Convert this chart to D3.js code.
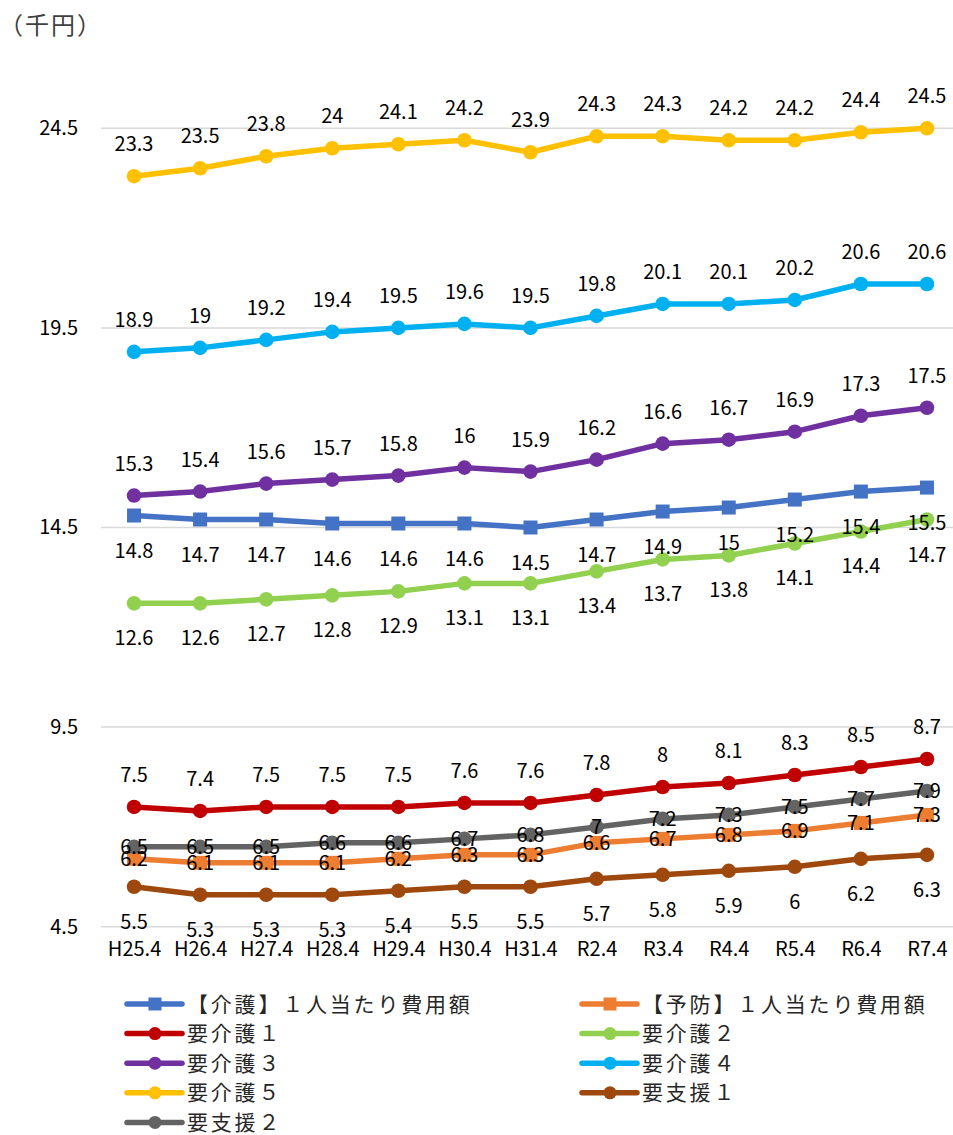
<!DOCTYPE html>
<html>
<head>
<meta charset="utf-8">
<script src="https://cdn.jsdelivr.net/npm/d3@7"></script>
<style>
  html, body { margin: 0; padding: 0; background: #fff; }
  svg { display: block; font-family: "Noto Sans CJK JP", "Noto Sans", sans-serif; }
</style>
</head>
<body>
<svg id="chart" width="953" height="1135"></svg>
<script>
// Categories (fiscal year, April)
const categories = ["H25.4","H26.4","H27.4","H28.4","H29.4","H30.4","H31.4","R2.4","R3.4","R4.4","R5.4","R6.4","R7.4"];
const yTicks = [4.5, 9.5, 14.5, 19.5, 24.5];

// Per-person cost (thousand yen) by care level
const kaigoTotal = [14.8,14.7,14.7,14.6,14.6,14.6,14.5,14.7,14.9,15,15.2,15.4,15.5];
const yoboTotal  = [6.2,6.1,6.1,6.1,6.2,6.3,6.3,6.6,6.7,6.8,6.9,7.1,7.3];
const kaigo1 = [7.5,7.4,7.5,7.5,7.5,7.6,7.6,7.8,8,8.1,8.3,8.5,8.7];
const kaigo2 = [12.6,12.6,12.7,12.8,12.9,13.1,13.1,13.4,13.7,13.8,14.1,14.4,14.7];
const kaigo3 = [15.3,15.4,15.6,15.7,15.8,16,15.9,16.2,16.6,16.7,16.9,17.3,17.5];
const kaigo4 = [18.9,19,19.2,19.4,19.5,19.6,19.5,19.8,20.1,20.1,20.2,20.6,20.6];
const kaigo5 = [23.3,23.5,23.8,24,24.1,24.2,23.9,24.3,24.3,24.2,24.2,24.4,24.5];
const shien1 = [5.5,5.3,5.3,5.3,5.4,5.5,5.5,5.7,5.8,5.9,6,6.2,6.3];
const shien2 = [6.5,6.5,6.5,6.6,6.6,6.7,6.8,7,7.2,7.3,7.5,7.7,7.9];

const seriesNames = ["【介護】１人当たり費用額","【予防】１人当たり費用額","要介護１","要介護２","要介護３","要介護４","要介護５","要支援１","要支援２"];

const series = [
  { name: seriesNames[0], values: kaigoTotal, color: "#4472C4", marker: "square", label: "below" },
  { name: seriesNames[1], values: yoboTotal,  color: "#ED7D31", marker: "square", label: "center" },
  { name: seriesNames[2], values: kaigo1, color: "#C00000", marker: "circle", label: "above" },
  { name: seriesNames[3], values: kaigo2, color: "#92D050", marker: "circle", label: "below" },
  { name: seriesNames[4], values: kaigo3, color: "#7030A0", marker: "circle", label: "above" },
  { name: seriesNames[5], values: kaigo4, color: "#00B0F0", marker: "circle", label: "above" },
  { name: seriesNames[6], values: kaigo5, color: "#FFC000", marker: "circle", label: "above" },
  { name: seriesNames[7], values: shien1, color: "#9E480E", marker: "circle", label: "below" },
  { name: seriesNames[8], values: shien2, color: "#636363", marker: "circle", label: "center" }
];

const svg = d3.select("#chart");
const plot = { left: 101, right: 960, bottom: 926.7 };

const x = d3.scalePoint().domain(categories).range([plot.left, plot.right]).padding(0.5);
const y = d3.scaleLinear().domain([4.5, 24.5]).range([plot.bottom, 128.3]);

// Unit label
svg.append("text").attr("x", -1).attr("y", 34)
  .attr("font-size", 24).attr("letter-spacing", 2).attr("fill", "#404040").text("（千円）");

// Horizontal gridlines and y tick labels
const yAxis = d3.axisLeft(y).tickValues(yTicks).tickSize(0).tickPadding(0)
  .tickFormat(d3.format(".1f"));
const gy = svg.append("g").attr("transform", `translate(78,0)`).call(yAxis);
gy.select(".domain").remove();
gy.selectAll("text").attr("font-size", 20).attr("fill", "#000")
  .attr("font-family", "'Noto Sans CJK JP', 'Noto Sans', sans-serif");

svg.append("g").selectAll("line").data(yTicks).join("line")
  .attr("x1", plot.left).attr("x2", 953)
  .attr("y1", d => y(d)).attr("y2", d => y(d))
  .attr("stroke", "#D9D9D9").attr("stroke-width", 1.5);

// Category axis labels
const xAxis = d3.axisBottom(x).tickSize(0).tickPadding(0);
const gx = svg.append("g").attr("transform", `translate(0,${plot.bottom + 15})`).call(xAxis);
gx.select(".domain").remove();
gx.selectAll("text").attr("font-size", 20).attr("fill", "#000")
  .attr("font-family", "'Noto Sans CJK JP', 'Noto Sans', sans-serif");

// Lines and markers
const line = d3.line().x((d, i) => x(categories[i])).y(d => y(d));
const lines = svg.append("g");
series.forEach(s => {
  const g = lines.append("g");
  g.append("path").datum(s.values)
    .attr("d", line).attr("fill", "none")
    .attr("stroke", s.color).attr("stroke-width", 5.5)
    .attr("stroke-linejoin", "round").attr("stroke-linecap", "round");
  if (s.marker === "square") {
    g.selectAll("rect").data(s.values).join("rect")
      .attr("x", (d, i) => x(categories[i]) - 7)
      .attr("y", d => y(d) - 7)
      .attr("width", 14).attr("height", 14)
      .attr("fill", s.color);
  } else {
    g.selectAll("circle").data(s.values).join("circle")
      .attr("cx", (d, i) => x(categories[i]))
      .attr("cy", d => y(d))
      .attr("r", 7.3)
      .attr("fill", s.color);
  }
});

// Data labels
const labelOffset = { above: -25, below: 42, center: 7 };
const labels = svg.append("g").attr("font-size", 20).attr("fill", "#000").attr("text-anchor", "middle");
series.forEach(s => {
  labels.append("g").selectAll("text").data(s.values).join("text")
    .attr("x", (d, i) => x(categories[i]))
    .attr("y", d => y(d) + labelOffset[s.label])
    .text(d => d);
});

// Legend (two columns)
const legendRows = [
  [0, 1],
  [2, 3],
  [4, 5],
  [6, 7],
  [8]
];
const legend = svg.append("g");
const colX = [127, 582];
legendRows.forEach((row, r) => {
  const ly = 1004 + r * 29.6;
  row.forEach((si, c) => {
    const s = series[si];
    const lx = colX[c];
    const item = legend.append("g");
    item.append("line").attr("x1", lx).attr("x2", lx + 55)
      .attr("y1", ly).attr("y2", ly)
      .attr("stroke", s.color).attr("stroke-width", 5.5).attr("stroke-linecap", "round");
    if (s.marker === "square") {
      item.append("rect").attr("x", lx + 21.5).attr("y", ly - 6.5)
        .attr("width", 13).attr("height", 13).attr("fill", s.color);
    } else {
      item.append("circle").attr("cx", lx + 28).attr("cy", ly).attr("r", 6.5).attr("fill", s.color);
    }
    item.append("text").attr("x", lx + 60).attr("y", ly + 7.5)
      .attr("font-size", 21).attr("letter-spacing", 2.8).attr("fill", "#262626")
      .text(s.name);
  });
});
</script>
</body>
</html>
